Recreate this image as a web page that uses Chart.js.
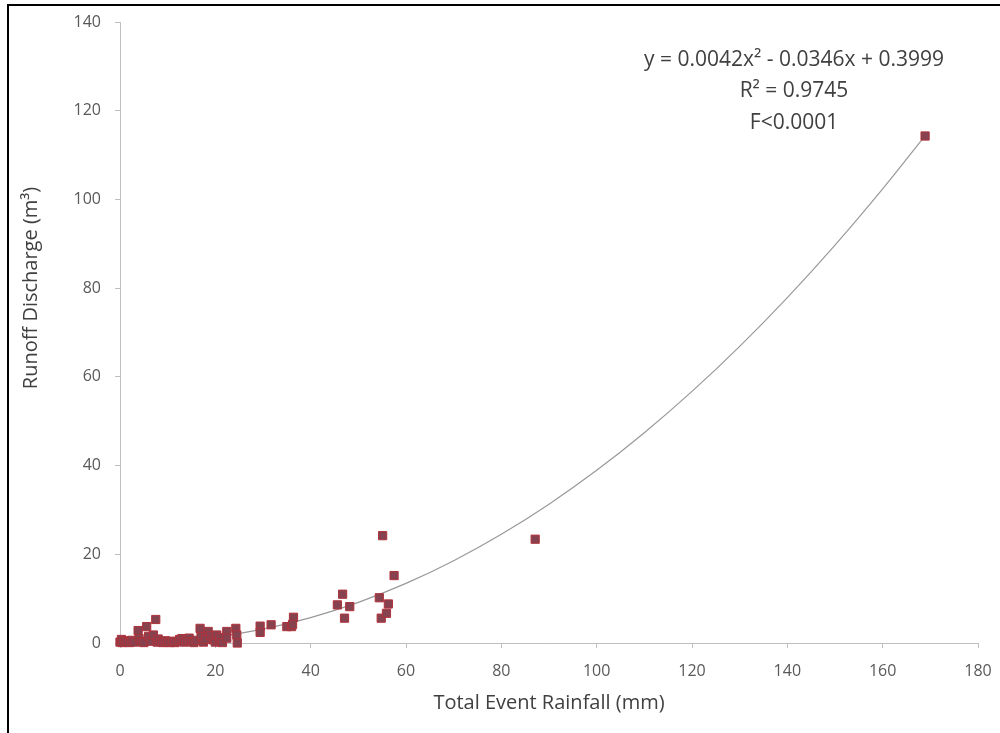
<!DOCTYPE html>
<html>
<head>
<meta charset="utf-8">
<script src="https://cdn.jsdelivr.net/npm/chart.js@4.4.0/dist/chart.umd.min.js"></script>
<style>
  body { margin: 0; background: #fff; }
  .wrap { position: relative; width: 1000px; height: 733px; }
  .frame { position: absolute; left: 7px; top: 4px; right: 0; bottom: 0; border-top: 2px solid #000; border-left: 2px solid #000; pointer-events: none; }
</style>
</head>
<body>
<div class="wrap">
  <canvas id="runoffChart" width="1000" height="733"></canvas>
  <div class="frame"></div>
</div>
<script>
// Lluvia total del evento (mm) y escorrentía (m3)
const rainfall = [
  0, 0.3, 0.5, 1, 1.5, 2, 2.5, 3, 3.8, 4, 4.5, 5, 5.6, 6, 6.5, 7, 7.5, 7.8, 8, 8.5,
  9, 9.5, 10, 10.5, 11, 11.5, 12, 12.5, 13, 13.5, 14, 14.5, 15, 15.5, 16, 16.8, 17, 17.5, 18, 18.5,
  19, 19.6, 20, 20.3, 20.8, 21, 21.5, 22.4, 22.4, 24.3, 24.5, 24.6,
  29.4, 29.4, 31.7, 35, 36, 36.4, 36.2,
  45.6, 46.7, 47.1, 48.2, 54.4, 54.8, 55.1, 55.9, 56.3, 57.5, 87.1, 168.9
];
const runoff = [
  0.2, 0.8, 0.1, 0.5, 0.3, 0.1, 0.6, 0.2, 2.8, 1.0, 0.3, 0.1, 3.7, 1.5, 0.4, 1.8, 5.3, 0.2, 0.9, 0.3,
  0.1, 0.5, 0.2, 0.1, 0.4, 0.1, 0.3, 0.8, 1.0, 0.2, 0.5, 1.1, 0.3, 0.1, 0.6, 3.3, 1.4, 0.2, 0.8, 2.6,
  1.6, 0.7, 0.2, 1.8, 0.4, 1.2, 0.1, 2.6, 1.1, 3.3, 1.8, 0,
  3.8, 2.4, 4.1, 3.7, 3.7, 5.8, 4.2,
  8.6, 11.0, 5.6, 8.2, 10.2, 5.6, 24.2, 6.7, 8.8, 15.2, 23.4, 114.3
];

// Coeficientes de la línea de tendencia polinómica mostrada en la figura
const trendCoef = [0.3999, -0.0346, 0.0042];
const trendX = [0, 10, 20, 30, 40, 50, 60, 70, 80, 90, 100, 110, 120, 130, 140, 150, 160, 169];
const eqLines = ['y = 0.0042x² - 0.0346x + 0.3999', 'R² = 0.9745', 'F<0.0001'];

const xTicks = [0, 20, 40, 60, 80, 100, 120, 140, 160, 180];
const yTicks = [0, 20, 40, 60, 80, 100, 120, 140];

const puntos = rainfall.map((x, i) => ({ x: x, y: runoff[i] }));
const tendencia = trendX.map(x => ({ x: x, y: trendCoef[0] + trendCoef[1] * x + trendCoef[2] * x * x }));

const fontFam = '"Open Sans", "Liberation Sans", sans-serif';

// Texto de la ecuación y título del eje Y
const textPlugin = {
  id: 'eqText',
  afterDraw(chart) {
    const c = chart.ctx;
    c.save();
    c.font = '21px ' + fontFam;
    c.fillStyle = '#404040';
    c.textAlign = 'center';
    c.textBaseline = 'middle';
    const ys = [60, 91, 123];
    eqLines.forEach((t, i) => c.fillText(t, 794, ys[i]));

    c.translate(31, 288);
    c.rotate(-Math.PI / 2);
    c.font = '20px ' + fontFam;
    c.fillText('Runoff Discharge (m³)', 0, 0);
    c.restore();
  }
};

const ctx = document.getElementById('runoffChart').getContext('2d');
new Chart(ctx, {
  type: 'scatter',
  data: {
    datasets: [
      {
        type: 'line',
        data: tendencia,
        borderColor: '#999999',
        borderWidth: 1.2,
        pointRadius: 0,
        tension: 0.4,
        fill: false,
        order: 2
      },
      {
        data: puntos,
        pointStyle: 'rect',
        pointRadius: 5.8,
        backgroundColor: '#874250',
        borderColor: '#b0323a',
        borderWidth: 1,
        clip: false,
        order: 1
      }
    ]
  },
  options: {
    responsive: false,
    animation: false,
    layout: { padding: { left: 0, top: 22, right: 22, bottom: 0 } },
    plugins: { legend: { display: false }, tooltip: { enabled: false } },
    scales: {
      x: {
        type: 'linear',
        min: 0, max: 180,
        afterBuildTicks: s => { s.ticks = xTicks.map(v => ({ value: v })); },
        afterFit: s => { s.height = 90; s.paddingLeft = 0; s.paddingRight = 0; },
        border: { color: '#bfbfbf', width: 1 },
        grid: { drawOnChartArea: false, drawTicks: true, tickLength: 5, color: '#bfbfbf' },
        ticks: { color: '#595959', font: { family: fontFam, size: 16 }, padding: 14, maxRotation: 0 },
        title: {
          display: true,
          text: 'Total Event Rainfall (mm)',
          color: '#404040',
          font: { family: fontFam, size: 20 },
          padding: { bottom: 18 }
        }
      },
      y: {
        type: 'linear',
        min: 0, max: 140,
        afterBuildTicks: s => { s.ticks = yTicks.map(v => ({ value: v })); },
        afterFit: s => { s.width = 120; s.paddingTop = 0; s.paddingBottom = 0; },
        border: { color: '#bfbfbf', width: 1 },
        grid: { drawOnChartArea: false, drawTicks: true, tickLength: 5, color: '#bfbfbf' },
        ticks: { color: '#595959', font: { family: fontFam, size: 16 }, padding: 14 },
        title: { display: false }
      }
    }
  },
  plugins: [textPlugin]
});
</script>
</body>
</html>
